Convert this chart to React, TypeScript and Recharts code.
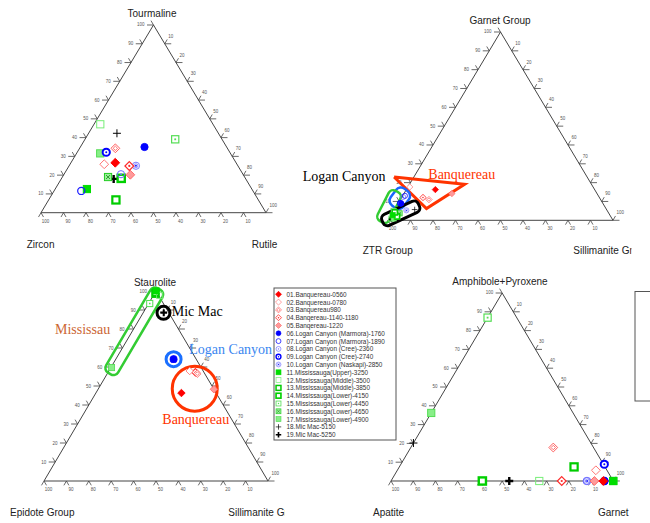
import React from "react";
import { ScatterChart, Scatter, XAxis, YAxis } from "recharts";

// Ternary compositions in percent: [top apex, right corner]; left corner = 100 - top - right
const seriesNames = [
  "01.Banquereau-0560",
  "02.Banquereau-0780",
  "03.Banquereau980",
  "04.Banqereau-1140-1180",
  "05.Banqereau-1220",
  "06.Logan Canyon (Marmora)-1760",
  "07.Logan Canyon (Marmora)-1890",
  "08.Logan Canyon (Cree)-2360",
  "09.Logan Canyon (Cree)-2740",
  "10.Logan Canyon (Naskapi)-2850",
  "11.Mississauga(Upper)-3250",
  "12.Mississauga(Middle)-3500",
  "13.Mississauga(Middle)-3850",
  "14.Mississauga(Lower)-4150",
  "15.Mississauga(Lower)-4450",
  "16.Mississauga(Lower)-4650",
  "17.Mississauga(Lower)-4900",
  "18.Mic Mac-5150",
  "19.Mic Mac-5250",
];

// Tourmaline (top) / Rutile (right) / Zircon (left)
const tourmalineRutile = [
  [26.6, 19.7], [25.8, 15.2], [34.3, 15.9], [24.9, 26.8], [20.2, 29.6],
  [35.0, 28.5], [11.6, 12.1], [20.5, 25.3], [32.2, 12.9], [25.0, 29.7],
  [12.6, 14.1], [47.1, 2.8], [6.8, 29.9], [18.3, 26.5], [39.1, 40.1],
  [19.0, 20.3], [31.6, 10.5], [42.3, 12.6], [18.0, 23.3],
];

// Garnet Group (top) / Sillimanite Group (right) / ZTR Group (left)
const garnetSillimanite = [
  [16.3, 12.9], [17.7, 0.8], [11.0, 12.7], [12.1, 9.5], [14.2, 21.3],
  [8.9, 1.5], [13.0, 1.0], [12.4, 0.5], [9.0, 1.0], [5.3, 5.5],
  [2.7, 0.7], [0.9, 1.0], [4.2, 0.9], [2.0, 3.0], [5.0, 0.0],
  [3.7, 3.3], [1.0, 2.0], [5.7, 9.0], [0.5, 1.3],
];

// Staurolite (top) / Sillimanite Group (right) / Epidote Group (left)
const stauroliteSillimanite = [
  [46.3, 38.2], [57.9, 36.1], [56.5, 40.2], [57.2, 39.0], [48.3, 51.7],
  [64.1, 25.8], [64.1, 25.8], [64.0, 25.9], [64.1, 25.8], [64.0, 25.8],
  [100, 0], [97.7, 2.8], [99.0, 0.3], [98.5, 0.5], [93.4, 0.5],
  [100, 0], [59.7, 0.3], [88.9, 9.0], [88.5, 9.2],
];

// Amphibole+Pyroxene (top) / Garnet (right) / Apatite (left)
const amphiboleGarnet = [
  [0, 95.5], [5.7, 89.3], [17.8, 64.1], [0, 76.8], [0, 91.5],
  [0, 96.0], [0, 96.0], [0, 88.0], [8.9, 91.5], [0, 88.3],
  [0, 100], [0, 66.7], [7.5, 78.6], [0, 41.1], [86.9, 0],
  [0, 100], [36.2, 0], [20.2, 0], [0, 53.2],
];

const tickValues = [10, 20, 30, 40, 50, 60, 70, 80, 90, 100];

type Tern = number[];
const toXY = ([t, r]: Tern) => ({ x: r / 100 + t / 200, y: t / 100 });

const MARKERS = [
  { shape: "diamond", stroke: "#ff0000", fill: "#ff0000", sw: 1 },
  { shape: "diamond", stroke: "#ff7373", fill: "#fff", sw: 1 },
  { shape: "diamond", stroke: "#ff5c5c", fill: "#fff", sw: 1, inner: "diamond" },
  { shape: "diamond", stroke: "#ff2a2a", fill: "#fff", sw: 1.2, inner: "dot" },
  { shape: "diamond", stroke: "#ff6b6b", fill: "#ff9a9a", sw: 1 },
  { shape: "circle", stroke: "#0000ff", fill: "#0000ff", sw: 1 },
  { shape: "circle", stroke: "#1a1aff", fill: "none", sw: 1.2 },
  { shape: "circle", stroke: "#6b6bff", fill: "none", sw: 1, inner: "dot" },
  { shape: "circle", stroke: "#0000ff", fill: "#fff", sw: 2, inner: "dot" },
  { shape: "circle", stroke: "#7a7aff", fill: "#fff", sw: 1, inner: "ring" },
  { shape: "square", stroke: "#00dd00", fill: "#00dd00", sw: 1 },
  { shape: "square", stroke: "#77ee77", fill: "none", sw: 1 },
  { shape: "square", stroke: "#00cc00", fill: "#fff", sw: 2.2 },
  { shape: "square", stroke: "#00d000", fill: "#fff", sw: 2.4 },
  { shape: "square", stroke: "#55dd55", fill: "#fff", sw: 1.2, inner: "dot" },
  { shape: "square", stroke: "#22cc22", fill: "#9af09a", sw: 1, inner: "x" },
  { shape: "square", stroke: "#55dd55", fill: "#88ee88", sw: 1 },
  { shape: "plus", stroke: "#000", fill: "none", sw: 1 },
  { shape: "plus", stroke: "#000", fill: "none", sw: 2.4 },
];

function Marker({ i, cx, cy, s = 1 }: { i: number; cx: number; cy: number; s?: number }) {
  const st: any = MARKERS[i];
  const c = st.stroke;
  if (st.shape === "circle") {
    const r = 3.6 * s;
    return (
      <g>
        <circle cx={cx} cy={cy} r={r} fill={st.fill} stroke={c} strokeWidth={st.sw * s} />
        {st.inner === "dot" && <circle cx={cx} cy={cy} r={1 * s} fill={c} />}
        {st.inner === "ring" && (
          <>
            <circle cx={cx} cy={cy} r={2 * s} fill="none" stroke={c} strokeWidth={0.8 * s} />
            <circle cx={cx} cy={cy} r={0.9 * s} fill="#0000ff" />
          </>
        )}
      </g>
    );
  }
  if (st.shape === "square") {
    const h = 3.6 * s;
    return (
      <g>
        <rect x={cx - h} y={cy - h} width={2 * h} height={2 * h} fill={st.fill} stroke={c} strokeWidth={st.sw * s} />
        {st.inner === "dot" && <rect x={cx - 0.9 * s} y={cy - 0.9 * s} width={1.8 * s} height={1.8 * s} fill={c} />}
        {st.inner === "x" && (
          <path d={`M${cx - 2 * s},${cy - 2 * s}L${cx + 2 * s},${cy + 2 * s}M${cx + 2 * s},${cy - 2 * s}L${cx - 2 * s},${cy + 2 * s}`} stroke="#118811" strokeWidth={0.8 * s} />
        )}
      </g>
    );
  }
  if (st.shape === "diamond") {
    const d = 4.4 * s;
    const pts = `${cx},${cy - d} ${cx + d},${cy} ${cx},${cy + d} ${cx - d},${cy}`;
    const d2 = 2.2 * s;
    const pts2 = `${cx},${cy - d2} ${cx + d2},${cy} ${cx},${cy + d2} ${cx - d2},${cy}`;
    return (
      <g>
        <polygon points={pts} fill={st.fill} stroke={c} strokeWidth={st.sw * s} />
        {st.inner === "diamond" && <polygon points={pts2} fill="none" stroke={c} strokeWidth={0.9 * s} />}
        {st.inner === "dot" && <circle cx={cx} cy={cy} r={1.1 * s} fill={c} />}
      </g>
    );
  }
  const p = 4 * s;
  return (
    <path d={`M${cx - p},${cy}L${cx + p},${cy}M${cx},${cy - p}L${cx},${cy + p}`} stroke={c} strokeWidth={st.sw * s} />
  );
}

const Empty = () => <g />;

const TickMark = (props: any) => {
  const { cx, cy, payload } = props;
  const { edge, v } = payload;
  const L = 5;
  const H = 6.5;
  const ln = { stroke: "#444", strokeWidth: 0.8 };
  const tx = { fontSize: 4.5, fill: "#555", fontFamily: "Liberation Sans, Arial, sans-serif" };
  if (edge === "L") {
    return (
      <g>
        <line x1={cx} y1={cy} x2={cx - H} y2={cy} {...ln} />
        <line x1={cx} y1={cy} x2={cx - L * 0.5} y2={cy - L * 0.866} {...ln} />
        <text x={cx - 9} y={cy + 1.5} textAnchor="end" {...tx}>{v}</text>
      </g>
    );
  }
  if (edge === "B") {
    return (
      <g>
        <line x1={cx} y1={cy} x2={cx - L * 0.5} y2={cy + L * 0.866} {...ln} />
        <line x1={cx} y1={cy} x2={cx + L * 0.5} y2={cy + L * 0.866} {...ln} />
        <text x={cx + 4.5} y={cy + 10} textAnchor="middle" {...tx}>{v}</text>
      </g>
    );
  }
  return (
    <g>
      <line x1={cx} y1={cy} x2={cx + H} y2={cy} {...ln} />
      <line x1={cx} y1={cy} x2={cx + L * 0.5} y2={cy - L * 0.866} {...ln} />
      <text x={cx + 3.5} y={cy - 6} textAnchor="start" {...tx}>{v}</text>
    </g>
  );
};

const frame = [[0, 0], [100, 0], [0, 100], [0, 0]].map(toXY);
const ticks = [
  ...tickValues.map((v) => ({ x: v / 200, y: v / 100, v, edge: "L" })),
  ...tickValues.map((v) => ({ x: 1 - v / 100, y: 0, v, edge: "B" })),
  ...tickValues.map((v) => ({ x: 0.5 + v / 200, y: 1 - v / 100, v, edge: "R" })),
];

type Ann =
  | { kind: "poly"; pts: Tern[]; color: string; width: number }
  | { kind: "rect"; at: Tern; w: number; h: number; angle: number; color: string; width: number }
  | { kind: "ring"; at: Tern; r: number; color: string; width: number };

const garnetNotes: Ann[] = [
  { kind: "poly", pts: [[23.0, -8.8], [19.1, 24.5], [6.2, 14.0], [23.0, -8.8]], color: "#ff3300", width: 3 },
  { kind: "rect", at: [11.7, -0.6], w: 21, h: 16, angle: -53, color: "#1a66ff", width: 2.5 },
  { kind: "rect", at: [7.3, -3.2], w: 34, h: 13, angle: -63, color: "#33cc33", width: 2.5 },
  { kind: "rect", at: [3.7, 3.8], w: 40, h: 12, angle: -25, color: "#000", width: 3 },
];

const stauroliteNotes: Ann[] = [
  { kind: "rect", at: [78.8, 0.9], w: 98, h: 14, angle: -59.5, color: "#33cc33", width: 2.5 },
  { kind: "ring", at: [88.5, 9.1], r: 6.5, color: "#000", width: 3 },
  { kind: "ring", at: [64.1, 25.8], r: 7.5, color: "#1a6fff", width: 3 },
  { kind: "ring", at: [48.6, 43.0], r: 22.5, color: "#ff3300", width: 3 },
];

function renderNote(a: Ann, k: number) {
  if (a.kind === "poly") {
    return (
      <Scatter key={"n" + k} data={a.pts.map(toXY)} line={{ stroke: a.color, strokeWidth: a.width, fill: "none" }}
        lineType="joint" shape={Empty} isAnimationActive={false} />
    );
  }
  if (a.kind === "rect") {
    return (
      <Scatter key={"n" + k} data={[toXY(a.at)]} isAnimationActive={false}
        shape={(p: any) => (
          <rect x={p.cx - a.w / 2} y={p.cy - a.h / 2} width={a.w} height={a.h} rx={a.h / 2.6}
            transform={`rotate(${a.angle} ${p.cx} ${p.cy})`} fill="none" stroke={a.color} strokeWidth={a.width} />
        )} />
    );
  }
  return (
    <Scatter key={"n" + k} data={[toXY(a.at)]} isAnimationActive={false}
      shape={(p: any) => <circle cx={p.cx} cy={p.cy} r={a.r} fill="none" stroke={a.color} strokeWidth={a.width} />} />
  );
}

function TernaryPlot({ left, top, w, h, comps, notes = [], ms = 1 }: any) {
  const m = 24;
  // draw later series first so the earlier ones sit on top, as in the source figure
  const order = comps.map((_: Tern, i: number) => i).reverse();
  return (
    <div style={{ position: "absolute", left: left - m, top: top - m }}>
      <ScatterChart width={w + 2 * m} height={h + 2 * m} margin={{ top: m, right: m, bottom: m, left: m }}>
        <XAxis type="number" dataKey="x" domain={[0, 1]} hide />
        <YAxis type="number" dataKey="y" domain={[0, 1]} hide />
        <Scatter data={frame} line={{ stroke: "#444", strokeWidth: 1, fill: "none" }} lineType="joint"
          shape={Empty} isAnimationActive={false} />
        <Scatter data={ticks} shape={TickMark} isAnimationActive={false} />
        {notes.map(renderNote)}
        {order.map((i: number) => (
          <Scatter key={i} name={seriesNames[i]} data={[toXY(comps[i])]} isAnimationActive={false}
            shape={(p: any) => <Marker i={i} cx={p.cx} cy={p.cy} s={ms} />} />
        ))}
      </ScatterChart>
    </div>
  );
}

const sans = "Liberation Sans, Arial, sans-serif";
const serif = "Liberation Serif, Times New Roman, serif";

const cornerLabels = [
  { text: "Tourmaline", x: 152, y: 13, anchor: "middle" },
  { text: "Zircon", x: 26.7, y: 244.3, anchor: "start" },
  { text: "Rutile", x: 251.7, y: 244.3, anchor: "start" },
  { text: "Garnet Group", x: 500, y: 20.7, anchor: "middle" },
  { text: "ZTR Group", x: 362.7, y: 250.7, anchor: "start" },
  { text: "Sillimanite Group", x: 573.3, y: 250.7, anchor: "start", clip: "c1" },
  { text: "Staurolite", x: 155, y: 282, anchor: "middle" },
  { text: "Epidote Group", x: 10, y: 512, anchor: "start" },
  { text: "Sillimanite Group", x: 228.3, y: 512, anchor: "start", clip: "c2" },
  { text: "Amphibole+Pyroxene", x: 500, y: 281.7, anchor: "middle" },
  { text: "Apatite", x: 373, y: 512, anchor: "start" },
  { text: "Garnet", x: 598, y: 512, anchor: "start" },
];

const noteLabels = [
  { text: "Logan Canyon", x: 302.7, y: 176.7, color: "#000" },
  { text: "Banquereau", x: 428.3, y: 174, color: "#ff3300" },
  { text: "Mic Mac", x: 171.7, y: 311.7, color: "#000" },
  { text: "Logan Canyon", x: 189.3, y: 349, color: "#3a86f0" },
  { text: "Banquereau", x: 162.3, y: 419.3, color: "#ff3300" },
  { text: "Mississau", x: 55, y: 329.3, color: "#cc6633" },
];

export default function App() {
  return (
    <div style={{ position: "absolute", left: 0, top: 0, width: 650, height: 523, overflow: "hidden", background: "#fff" }}>
      <TernaryPlot left={40.7} top={25} w={225} h={187.7} comps={tourmalineRutile} />
      <TernaryPlot left={388.3} top={31.7} w={225} h={188.3} comps={garnetSillimanite} notes={garnetNotes} ms={0.72} />
      <TernaryPlot left={44.3} top={290.7} w={224} h={190} comps={stauroliteSillimanite} notes={stauroliteNotes} ms={0.85} />
      <TernaryPlot left={391} top={292.7} w={222.3} h={188} comps={amphiboleGarnet} />
      <svg width={650} height={523} style={{ position: "absolute", left: 0, top: 0, pointerEvents: "none" }}>
        <defs>
          <clipPath id="c1"><rect x={560} y={230} width={71.5} height={40} /></clipPath>
          <clipPath id="c2"><rect x={220} y={495} width={65} height={30} /></clipPath>
        </defs>
        {cornerLabels.map((l, k) => (
          <text key={k} x={l.x} y={l.y} textAnchor={l.anchor as any} dominantBaseline="central"
            fontFamily={sans} fontSize={10} fill="#222" clipPath={l.clip ? `url(#${l.clip})` : undefined}>
            {l.text}
          </text>
        ))}
        {noteLabels.map((l, k) => (
          <text key={k} x={l.x} y={l.y} dominantBaseline="central" fontFamily={serif} fontSize={14} fill={l.color}>
            {l.text}
          </text>
        ))}
        <rect x={274} y={288} width={122} height={152} fill="#fff" stroke="#555" strokeWidth={1} />
        {seriesNames.map((n, i) => {
          const cy = 294.3 + i * 7.8;
          return (
            <g key={n}>
              <Marker i={i} cx={278.5} cy={cy} s={0.68} />
              <text x={286.5} y={cy} dominantBaseline="central" fontFamily={sans} fontSize={6.4} fill="#333">{n}</text>
            </g>
          );
        })}
        <rect x={635} y={291.5} width={40} height={109.5} fill="none" stroke="#555" strokeWidth={1} />
      </svg>
    </div>
  );
}
